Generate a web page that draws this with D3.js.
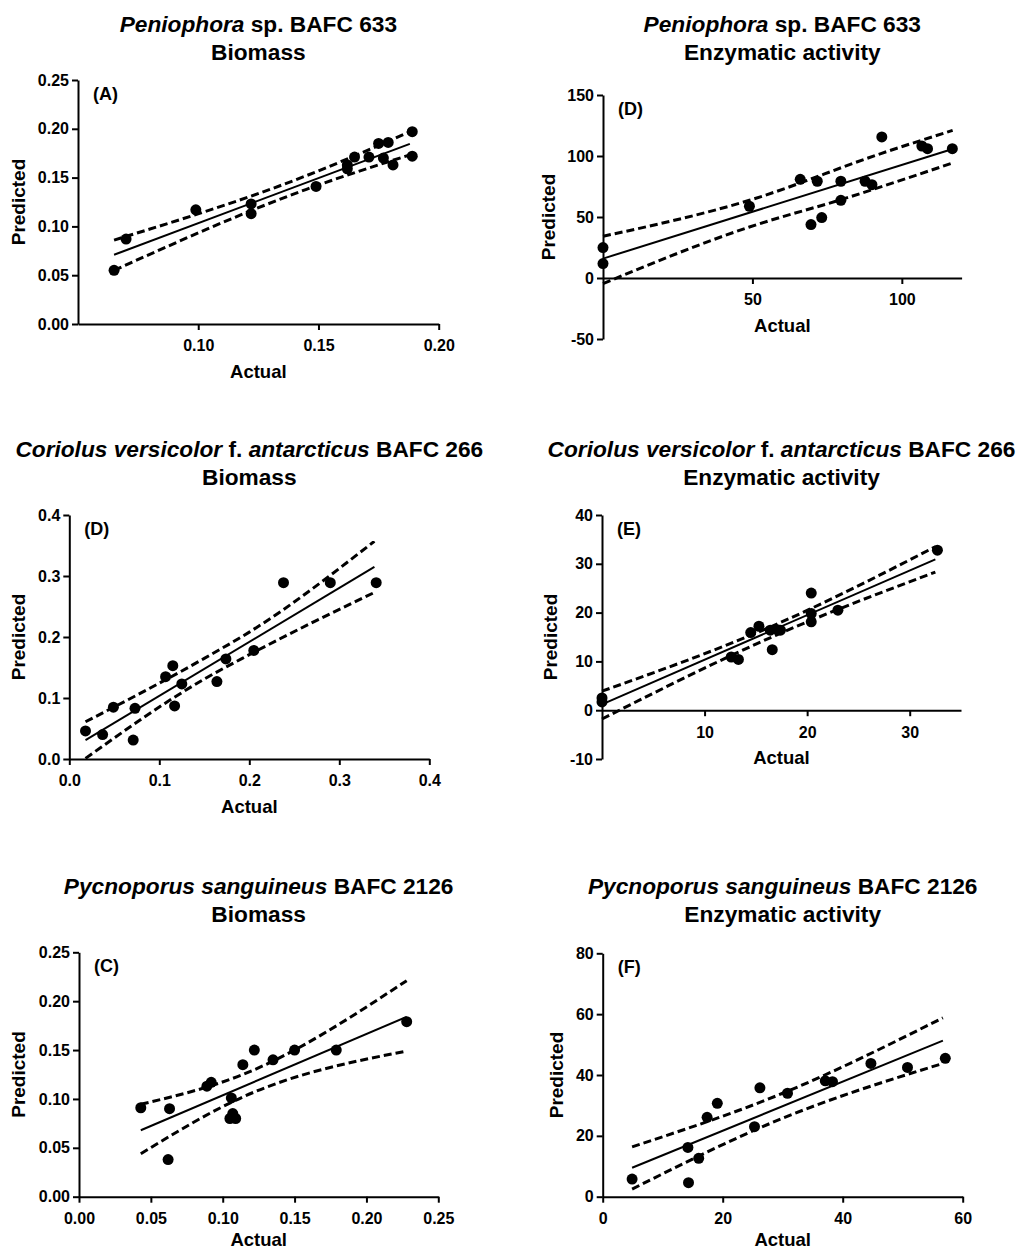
<!DOCTYPE html>
<html>
<head>
<meta charset="utf-8">
<script src="https://cdn.jsdelivr.net/npm/d3@7"></script>
<style>
  body { margin: 0; background: #fff; }
  svg { display: block; font-family: Arial, "Liberation Sans", sans-serif; font-weight: bold; }
</style>
</head>
<body>
<svg id="chart" width="1025" height="1252"></svg>
<script>
// ---- Peniophora sp. BAFC 633, biomass (A)
var penBioActual = [0.065, 0.070, 0.099, 0.122, 0.122, 0.149, 0.162, 0.162, 0.165, 0.171, 0.175, 0.177, 0.179, 0.181, 0.189, 0.189];
var penBioPred   = [0.055, 0.087, 0.117, 0.123, 0.113, 0.141, 0.163, 0.159, 0.171, 0.171, 0.185, 0.170, 0.186, 0.163, 0.197, 0.172];
var penBioFit    = [[0.065, 0.071], [0.188, 0.1845]];
var penBioUpper  = [[0.065, 0.086], [0.145, 0.152], [0.189, 0.198]];
var penBioLower  = [[0.065, 0.055], [0.145, 0.138], [0.189, 0.174]];
var penBioXTicks = [0.10, 0.15, 0.20];
var penBioYTicks = [0, 0.05, 0.10, 0.15, 0.20, 0.25];

// ---- Peniophora sp. BAFC 633, enzymatic activity (D)
var penEnzActual = [0, 0, 49, 66, 71.7, 69.6, 73.2, 79.6, 79.6, 87.7, 90, 93.3, 106.7, 108.6, 116.9];
var penEnzPred   = [24.9, 11.8, 58.8, 80.9, 79.3, 43.8, 49.5, 79.3, 63.7, 79.3, 76.5, 115.6, 108.2, 106, 106];
var penEnzFit    = [[0, 15.9], [117, 105.7]];
var penEnzUpper  = [[0, 34.2], [49, 63.7], [93, 102], [117, 121]];
var penEnzLower  = [[0, -4.6], [49, 41.8], [80, 64.5], [117, 94.3]];
var penEnzXTicks = [50, 100];
var penEnzYTicks = [-50, 0, 50, 100, 150];

// ---- Coriolus versicolor f. antarcticus BAFC 266, biomass (D)
var corBioActual = [0.018, 0.037, 0.049, 0.071, 0.073, 0.107, 0.115, 0.117, 0.125, 0.164, 0.174, 0.205, 0.238, 0.290, 0.341];
var corBioPred   = [0.046, 0.040, 0.085, 0.031, 0.083, 0.135, 0.153, 0.087, 0.123, 0.127, 0.164, 0.178, 0.289, 0.289, 0.289];
var corBioFit    = [[0.018, 0.031], [0.339, 0.315]];
var corBioUpper  = [[0.018, 0.061], [0.15, 0.165], [0.2, 0.208], [0.339, 0.357]];
var corBioLower  = [[0.018, 0.001], [0.15, 0.131], [0.2, 0.171], [0.339, 0.273]];
var corBioXTicks = [0, 0.1, 0.2, 0.3, 0.4];
var corBioYTicks = [0, 0.1, 0.2, 0.3, 0.4];

// ---- Coriolus versicolor f. antarcticus BAFC 266, enzymatic activity (E)
var corEnzActual = [0, 0, 12.6, 13.3, 14.5, 15.3, 16.4, 16.6, 17.1, 17.4, 20.4, 20.4, 20.4, 23.0, 32.7];
var corEnzPred   = [2.5, 1.7, 10.9, 10.4, 15.9, 17.2, 16.4, 12.4, 16.5, 16.4, 24.0, 19.8, 18.1, 20.5, 32.8];
var corEnzFit    = [[0, 1.2], [32.5, 30.9]];
var corEnzUpper  = [[0, 3.9], [17, 17.6], [32.5, 33.5]];
var corEnzLower  = [[0, -1.8], [17, 15.4], [32.5, 28.3]];
var corEnzXTicks = [10, 20, 30];
var corEnzYTicks = [-10, 0, 10, 20, 30, 40];

// ---- Pycnoporus sanguineus BAFC 2126, biomass (C)
var pycBioActual = [0.043, 0.063, 0.062, 0.089, 0.092, 0.106, 0.105, 0.107, 0.109, 0.114, 0.122, 0.135, 0.150, 0.179, 0.228];
var pycBioPred   = [0.091, 0.090, 0.038, 0.113, 0.117, 0.101, 0.080, 0.085, 0.080, 0.135, 0.150, 0.140, 0.150, 0.150, 0.179];
var pycBioFit    = [[0.043, 0.068], [0.228, 0.184]];
var pycBioUpper  = [[0.043, 0.0945], [0.114, 0.125], [0.228, 0.221]];
var pycBioLower  = [[0.043, 0.044], [0.114, 0.102], [0.228, 0.149]];
var pycBioXTicks = [0, 0.05, 0.10, 0.15, 0.20, 0.25];
var pycBioYTicks = [0, 0.05, 0.10, 0.15, 0.20, 0.25];

// ---- Pycnoporus sanguineus BAFC 2126, enzymatic activity (F)
var pycEnzActual = [4.9, 14.2, 14.3, 16, 17.4, 19.1, 25.3, 26.2, 30.8, 37.1, 38.3, 44.7, 50.8, 57.1];
var pycEnzPred   = [5.8, 16.2, 4.6, 12.6, 26.1, 30.7, 23.0, 35.8, 34.0, 38.1, 37.8, 43.8, 42.5, 45.5];
var pycEnzFit    = [[4.9, 9.5], [56.7, 51.3]];
var pycEnzUpper  = [[4.9, 16.4], [30, 34.0], [56.7, 58.8]];
var pycEnzLower  = [[4.9, 2.5], [30, 25.8], [56.7, 43.8]];
var pycEnzXTicks = [0, 20, 40, 60];
var pycEnzYTicks = [0, 20, 40, 60, 80];

// title pieces: [text, italic?]
var penTitle = [["Peniophora", true], [" sp. BAFC 633", false]];
var corTitle = [["Coriolus versicolor", true], [" f. ", false], ["antarcticus", true], [" BAFC 266", false]];
var pycTitle = [["Pycnoporus sanguineus", true], [" BAFC 2126", false]];

// panels: data + where they sit on the page
var panels = [
  { title: penTitle, sub: "Biomass", tag: "(A)", actual: penBioActual, pred: penBioPred, fit: penBioFit, upper: penBioUpper, lower: penBioLower,
    xTicks: penBioXTicks, yTicks: penBioYTicks, xDomain: [0.05, 0.20], yDomain: [0, 0.25], fmt: ".2f",
    left: 78, right: 438.7, top: 80, bottom: 324, titleY: 32, yLabelOff: 53, xLabelOff: 54 },
  { title: penTitle, sub: "Enzymatic activity", tag: "(D)", actual: penEnzActual, pred: penEnzPred, fit: penEnzFit, upper: penEnzUpper, lower: penEnzLower,
    xTicks: penEnzXTicks, yTicks: penEnzYTicks, xDomain: [0, 120], yDomain: [-50, 150], fmt: "d",
    left: 603, right: 961.6, top: 95, bottom: 339, titleY: 32, yLabelOff: 48, xLabelOff: 54 },
  { title: corTitle, sub: "Biomass", tag: "(D)", actual: corBioActual, pred: corBioPred, fit: corBioFit, upper: corBioUpper, lower: corBioLower,
    xTicks: corBioXTicks, yTicks: corBioYTicks, xDomain: [0, 0.4], yDomain: [0, 0.4], fmt: ".1f",
    left: 69.3, right: 429.3, top: 515, bottom: 759, titleY: 456.7, yLabelOff: 44, xLabelOff: 54 },
  { title: corTitle, sub: "Enzymatic activity", tag: "(E)", actual: corEnzActual, pred: corEnzPred, fit: corEnzFit, upper: corEnzUpper, lower: corEnzLower,
    xTicks: corEnzXTicks, yTicks: corEnzYTicks, xDomain: [0, 35], yDomain: [-10, 40], fmt: "d",
    left: 602, right: 961, top: 515, bottom: 759, titleY: 456.7, yLabelOff: 45, xLabelOff: 53.5 },
  { title: pycTitle, sub: "Biomass", tag: "(C)", actual: pycBioActual, pred: pycBioPred, fit: pycBioFit, upper: pycBioUpper, lower: pycBioLower,
    xTicks: pycBioXTicks, yTicks: pycBioYTicks, xDomain: [0, 0.25], yDomain: [0, 0.25], fmt: ".2f",
    left: 79, right: 438.3, top: 952.3, bottom: 1196.7, titleY: 894.3, yLabelOff: 54, xLabelOff: 49.5 },
  { title: pycTitle, sub: "Enzymatic activity", tag: "(F)", actual: pycEnzActual, pred: pycEnzPred, fit: pycEnzFit, upper: pycEnzUpper, lower: pycEnzLower,
    xTicks: pycEnzXTicks, yTicks: pycEnzYTicks, xDomain: [0, 60], yDomain: [0, 80], fmt: "d",
    left: 602.7, right: 962.7, top: 953.3, bottom: 1196.7, titleY: 894.3, yLabelOff: 40, xLabelOff: 49.5 }
];

var svg = d3.select("#chart");

panels.forEach(function (p) {
  var x = d3.scaleLinear().domain(p.xDomain).range([p.left, p.right]);
  var y = d3.scaleLinear().domain(p.yDomain).range([p.bottom, p.top]);
  var g = svg.append("g");
  var cx = (p.left + p.right) / 2;
  // plain hyphen for negatives, as in the original
  var f = d3.format(p.fmt);
  var fmt = function (d) { return f(d).replace("\u2212", "-"); };

  // title, two lines
  var t1 = g.append("text").attr("x", cx).attr("y", p.titleY)
    .attr("text-anchor", "middle").attr("font-size", 22.7);
  p.title.forEach(function (part) {
    t1.append("tspan").text(part[0]).attr("font-style", part[1] ? "italic" : "normal");
  });
  g.append("text").attr("x", cx).attr("y", p.titleY + 28)
    .attr("text-anchor", "middle").attr("font-size", 22.7).text(p.sub);

  // axes
  var xAxis = d3.axisBottom(x).tickValues(p.xTicks).tickFormat(fmt)
    .tickSize(6).tickSizeOuter(0).tickPadding(10);
  var yAxis = d3.axisLeft(y).tickValues(p.yTicks).tickFormat(fmt)
    .tickSize(6).tickSizeOuter(0).tickPadding(3);

  var gx = g.append("g").attr("transform", "translate(0," + y(0) + ")").call(xAxis);
  var gy = g.append("g").attr("transform", "translate(" + p.left + ",0)").call(yAxis);
  [gx, gy].forEach(function (a) {
    a.selectAll("path, line").attr("stroke", "#000").attr("stroke-width", 2);
    a.selectAll("text").attr("fill", "#000").attr("font-size", 16)
      .attr("font-family", null).attr("font-weight", "bold");
  });

  // axis titles
  g.append("text").attr("x", cx).attr("y", y(0) + p.xLabelOff)
    .attr("text-anchor", "middle").attr("font-size", 18.5).text("Actual");
  g.append("text")
    .attr("transform", "translate(" + (p.left - p.yLabelOff) + "," + ((p.top + p.bottom) / 2) + ") rotate(-90)")
    .attr("text-anchor", "middle").attr("font-size", 19).text("Predicted");

  // panel letter
  g.append("text").attr("x", p.left + 15).attr("y", p.top + 19.5)
    .attr("font-size", 18).text(p.tag);

  // regression line and bands
  var line = d3.line().x(function (d) { return x(d[0]); }).y(function (d) { return y(d[1]); });
  var band = d3.line().curve(d3.curveMonotoneX)
    .x(function (d) { return x(d[0]); }).y(function (d) { return y(d[1]); });

  g.append("path").datum(p.fit).attr("d", line)
    .attr("fill", "none").attr("stroke", "#000").attr("stroke-width", 2);
  [p.upper, p.lower].forEach(function (b) {
    g.append("path").datum(b).attr("d", band)
      .attr("fill", "none").attr("stroke", "#000").attr("stroke-width", 3)
      .attr("stroke-dasharray", "8,4");
  });

  // points
  g.selectAll("circle.pt").data(p.actual).enter().append("circle")
    .attr("class", "pt")
    .attr("cx", function (d) { return x(d); })
    .attr("cy", function (d, i) { return y(p.pred[i]); })
    .attr("r", 5.5).attr("fill", "#000");
});
</script>
</body>
</html>
